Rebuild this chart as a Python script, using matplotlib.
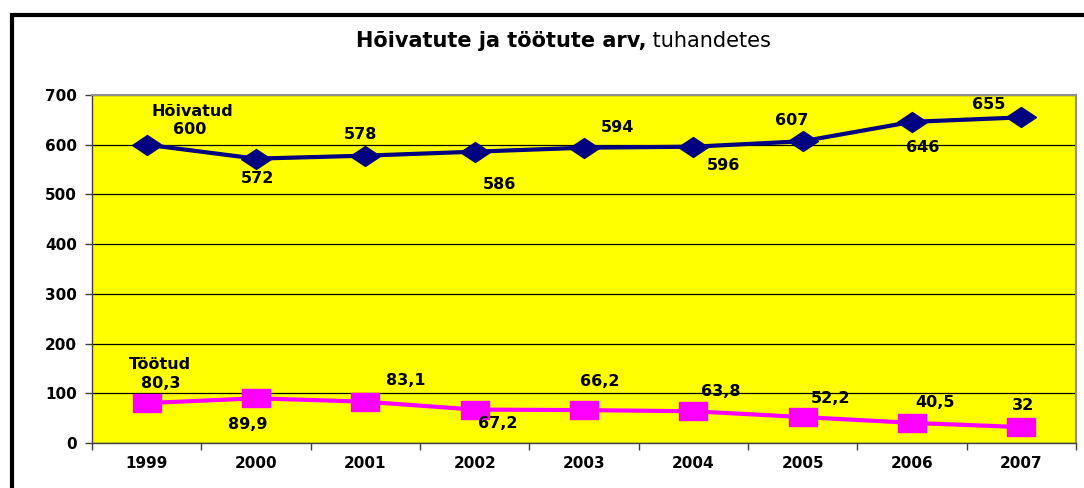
"""Hõivatute ja töötute arv, tuhandetes (1999-2007)."""

import matplotlib

matplotlib.use("Agg")
import matplotlib.pyplot as plt
from matplotlib.patches import Rectangle

plt.rcParams["font.family"] = ["DejaVu Sans"]

years = ["1999", "2000", "2001", "2002", "2003", "2004", "2005", "2006", "2007"]
employed = [600, 572, 578, 586, 594, 596, 607, 646, 655]
unemployed = [80.3, 89.9, 83.1, 67.2, 66.2, 63.8, 52.2, 40.5, 32]
employed_labels = ["600", "572", "578", "586", "594", "596", "607", "646", "655"]
unemployed_labels = ["80,3", "89,9", "83,1", "67,2", "66,2", "63,8", "52,2", "40,5", "32"]
y_ticks = [0, 100, 200, 300, 400, 500, 600, 700]

# label offsets in pixels (dx, dy)
emp_off = [(43, 15), (1, -20), (-5, 21), (25, -33), (33, 20),
           (30, -19), (-11, 21), (11, -26), (-33, 13)]
unemp_off = [(14, 20), (-8, -26), (40, 21), (23, -14), (16, 29),
             (27, 20), (28, 19), (23, 20), (2, 22)]

NAVY = "#000080"
MAGENTA = "#FF00FF"

# the original is stretched sideways, so are its markers
diamond = [(-1.5, 0), (0, 1), (1.5, 0), (0, -1), (-1.5, 0)]
square = [(-1.5, -1), (1.5, -1), (1.5, 1), (-1.5, 1), (-1.5, -1)]

fig = plt.figure(figsize=(10.84, 4.88), dpi=100)
fig.patch.set_facecolor("white")
ax = fig.add_axes([92 / 1084, 1 - 443 / 488, 984 / 1084, 348 / 488])
ax.set_facecolor("#FFFF00")

x = list(range(len(years)))
ax.plot(x, employed, color=NAVY, lw=3, marker=diamond, ms=21.5,
        mfc=NAVY, mec=NAVY, zorder=3)
ax.plot(x, unemployed, color=MAGENTA, lw=3, marker=square, ms=20.5,
        mfc=MAGENTA, mec=MAGENTA, zorder=3)

lab_kw = dict(textcoords="offset pixels", ha="center", va="center",
              fontsize=11.5, fontweight="bold", color="black", zorder=4)
for i, (v, s) in enumerate(zip(employed, employed_labels)):
    ax.annotate(s, (i, v), xytext=emp_off[i], **lab_kw)
for i, (v, s) in enumerate(zip(unemployed, unemployed_labels)):
    ax.annotate(s, (i, v), xytext=unemp_off[i], **lab_kw)

ax.annotate("Hõivatud", (0, employed[0]), xytext=(46, 33), **lab_kw)
ax.annotate("Töötud", (0, unemployed[0]), xytext=(13, 39), **lab_kw)

ax.set_xlim(-0.5, len(years) - 0.5)
ax.set_ylim(0, 700)
ax.set_yticks(y_ticks)
ax.yaxis.grid(True, color="black", lw=0.9)
ax.set_axisbelow(True)

ax.set_xticks(x)
ax.set_xticklabels(years)
ax.set_xticks([i - 0.5 for i in range(len(years) + 1)], minor=True)
ax.tick_params(axis="x", which="major", length=0, pad=9)
ax.tick_params(axis="x", which="minor", length=5, width=1, color="#404040",
               direction="out")
ax.tick_params(axis="y", length=5, width=1, color="#404040", pad=6)
for lab in ax.get_xticklabels() + ax.get_yticklabels():
    lab.set_fontsize(11)
    lab.set_fontweight("bold")

for side in ("left", "bottom"):
    ax.spines[side].set_color("#404040")
    ax.spines[side].set_linewidth(1)
for side in ("top", "right"):
    ax.spines[side].set_color("#909090")
    ax.spines[side].set_linewidth(1.5)

fig.text(646 / 1084, 1 - 47 / 488, "Hõivatute ja töötute arv,", ha="right",
         va="baseline", fontsize=15, fontweight="bold")
fig.text(646 / 1084, 1 - 47 / 488, " tuhandetes", ha="left", va="baseline",
         fontsize=15)

# outer chart frame, runs off the right and bottom edge
fig.patches.append(Rectangle((12 / 1084, -0.1), 1.2, 1 - 15 / 488 + 0.1,
                             transform=fig.transFigure, fill=False,
                             edgecolor="black", lw=3, clip_on=False))

fig.savefig("out.png", dpi=100)
